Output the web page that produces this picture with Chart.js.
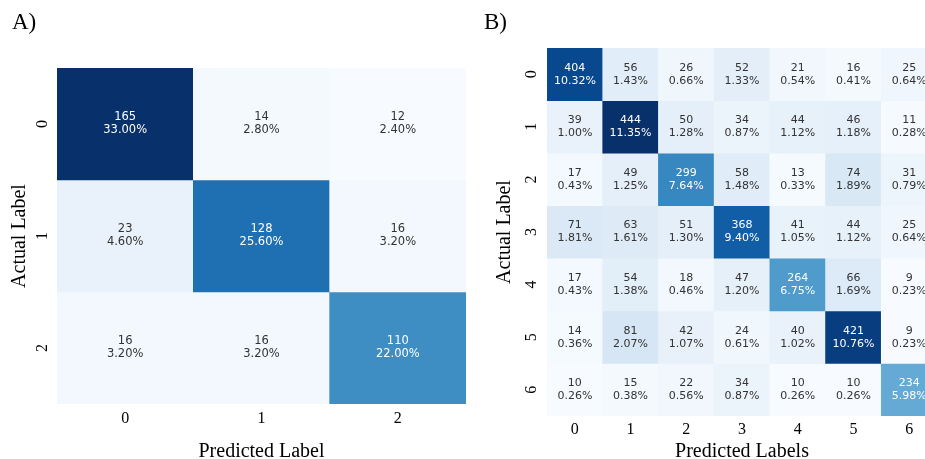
<!DOCTYPE html>
<html lang="en">
<head>
<meta charset="UTF-8">
<title>Confusion Matrices</title>
<script src="https://cdn.jsdelivr.net/npm/chart.js"></script>
<style>
  html, body { margin: 0; padding: 0; background: #fff; }
  body { width: 925px; height: 459px; position: relative; overflow: hidden; }
  canvas { position: absolute; top: 0; }
  #chartA { left: 0; }
  #chartB { left: 470px; }
</style>
</head>
<body>
<canvas id="chartA" width="475" height="459"></canvas>
<canvas id="chartB" width="480" height="459"></canvas>
<script>
// Panel A: 3-class confusion matrix
const labelsA = ['0', '1', '2'];
const countsA = [
  [165, 14, 12],
  [23, 128, 16],
  [16, 16, 110]
];
const pctA = [
  ['33.00%', '2.80%', '2.40%'],
  ['4.60%', '25.60%', '3.20%'],
  ['3.20%', '3.20%', '22.00%']
];

// Panel B: 7-class confusion matrix
const labelsB = ['0', '1', '2', '3', '4', '5', '6'];
const countsB = [
  [404, 56, 26, 52, 21, 16, 25],
  [39, 444, 50, 34, 44, 46, 11],
  [17, 49, 299, 58, 13, 74, 31],
  [71, 63, 51, 368, 41, 44, 25],
  [17, 54, 18, 47, 264, 66, 9],
  [14, 81, 42, 24, 40, 421, 9],
  [10, 15, 22, 34, 10, 10, 234]
];
const pctB = [
  ['10.32%', '1.43%', '0.66%', '1.33%', '0.54%', '0.41%', '0.64%'],
  ['1.00%', '11.35%', '1.28%', '0.87%', '1.12%', '1.18%', '0.28%'],
  ['0.43%', '1.25%', '7.64%', '1.48%', '0.33%', '1.89%', '0.79%'],
  ['1.81%', '1.61%', '1.30%', '9.40%', '1.05%', '1.12%', '0.64%'],
  ['0.43%', '1.38%', '0.46%', '1.20%', '6.75%', '1.69%', '0.23%'],
  ['0.36%', '2.07%', '1.07%', '0.61%', '1.02%', '10.76%', '0.23%'],
  ['0.26%', '0.38%', '0.56%', '0.87%', '0.26%', '0.26%', '5.98%']
];

// matplotlib "Blues"
const BLUES = ['#f7fbff', '#deebf7', '#c6dbef', '#9ecae1', '#6baed6', '#4292c6', '#2171b5', '#08519c', '#08306b'];

function hexToRgb(h) {
  return [1, 3, 5].map(i => parseInt(h.slice(i, i + 2), 16));
}

function blues(t) {
  t = Math.max(0, Math.min(1, t));
  const pos = t * (BLUES.length - 1);
  const i = Math.min(Math.floor(pos), BLUES.length - 2);
  const f = pos - i;
  const a = hexToRgb(BLUES[i]), b = hexToRgb(BLUES[i + 1]);
  return a.map((v, k) => Math.round(v + (b[k] - v) * f));
}

function luminance(rgb) {
  const c = rgb.map(v => {
    v /= 255;
    return v <= 0.03928 ? v / 12.92 : Math.pow((v + 0.055) / 1.055, 2.4);
  });
  return 0.2126 * c[0] + 0.7152 * c[1] + 0.0722 * c[2];
}

const serif = 'Liberation Serif';

function makeHeatmap(id, cfg) {
  const { labels, counts, pcts } = cfg;
  const flat = counts.flat();
  const vmin = Math.min(...flat), vmax = Math.max(...flat);
  const cellRgb = counts.map(row => row.map(v => blues((v - vmin) / (vmax - vmin))));
  const textColors = cellRgb.map(row => row.map(rgb => luminance(rgb) > 0.408 ? '#333333' : '#ffffff'));

  const datasets = labels.map((rowLabel, r) => ({
    label: 'Actual ' + rowLabel,
    data: counts[r].map(() => [r - 0.5, r + 0.5]),
    backgroundColor: cellRgb[r].map(c => `rgb(${c[0]}, ${c[1]}, ${c[2]})`),
    borderWidth: 0,
    grouped: false,
    barPercentage: 1,
    categoryPercentage: 1
  }));

  // write count + percentage in each cell
  const cellText = {
    id: 'cellText',
    afterDatasetsDraw(chart) {
      const ctx = chart.ctx;
      ctx.save();
      ctx.font = cfg.cellFont + 'px "DejaVu Sans"';
      ctx.textAlign = 'center';
      ctx.textBaseline = 'middle';
      chart.data.datasets.forEach((ds, r) => {
        chart.getDatasetMeta(r).data.forEach((bar, c) => {
          const cy = (bar.y + bar.base) / 2;
          ctx.fillStyle = textColors[r][c];
          ctx.fillText(String(counts[r][c]), bar.x, cy - 6.5);
          ctx.fillText(pcts[r][c], bar.x, cy + 6.5);
        });
      });
      ctx.restore();
    }
  };

  return new Chart(document.getElementById(id), {
    type: 'bar',
    data: { labels: labels, datasets: datasets },
    plugins: [cellText],
    options: {
      responsive: false,
      animation: false,
      events: [],
      layout: { padding: { left: cfg.padLeft, right: cfg.padRight, top: 0, bottom: 0 } },
      plugins: {
        legend: { display: false },
        tooltip: { enabled: false },
        title: {
          display: true,
          text: cfg.panel,
          align: 'start',
          color: '#000',
          font: { family: serif, size: 23, weight: 'normal', lineHeight: 1.2 },
          padding: { top: 9, bottom: cfg.titleGap }
        }
      },
      scales: {
        x: {
          type: 'category',
          offset: true,
          grid: { display: false },
          border: { display: false },
          ticks: { color: '#000', font: { family: serif, size: 16 }, padding: cfg.xTickPad },
          title: {
            display: true,
            text: cfg.xTitle,
            color: '#000',
            font: { family: serif, size: 20, lineHeight: 1 },
            padding: { top: 0, bottom: -3 }
          },
          afterFit: s => { s.height = cfg.xAxisHeight; }
        },
        y: {
          type: 'linear',
          reverse: true,
          min: -0.5,
          max: labels.length - 0.5,
          grid: { display: false },
          border: { display: false },
          afterBuildTicks: s => { s.ticks = labels.map((_, i) => ({ value: i })); },
          ticks: {
            callback: v => labels[v],
            minRotation: 90,
            maxRotation: 90,
            crossAlign: 'center',
            padding: cfg.yTickPad,
            color: '#000',
            font: { family: serif, size: 16 }
          },
          title: {
            display: true,
            text: 'Actual Label',
            color: '#000',
            font: { family: serif, size: 20, lineHeight: 1 },
            padding: { top: cfg.yTitlePad, bottom: 0 }
          },
          afterFit: s => { s.width = cfg.yAxisWidth; }
        }
      }
    }
  });
}

makeHeatmap('chartA', {
  panel: 'A)', labels: labelsA, counts: countsA, pcts: pctA,
  xTitle: 'Predicted Label', cellFont: 11.5,
  padLeft: 12, padRight: 9, titleGap: 31.4,
  yAxisWidth: 45, xAxisHeight: 55,
  yTickPad: 2, xTickPad: -3, yTitlePad: -2.5
});

makeHeatmap('chartB', {
  panel: 'B)', labels: labelsB, counts: countsB, pcts: pctB,
  xTitle: 'Predicted Labels', cellFont: 11,
  padLeft: 14, padRight: 13, titleGap: 11.4,
  yAxisWidth: 63, xAxisHeight: 43,
  yTickPad: 3, xTickPad: -4, yTitlePad: 10.5
});
</script>
</body>
</html>
